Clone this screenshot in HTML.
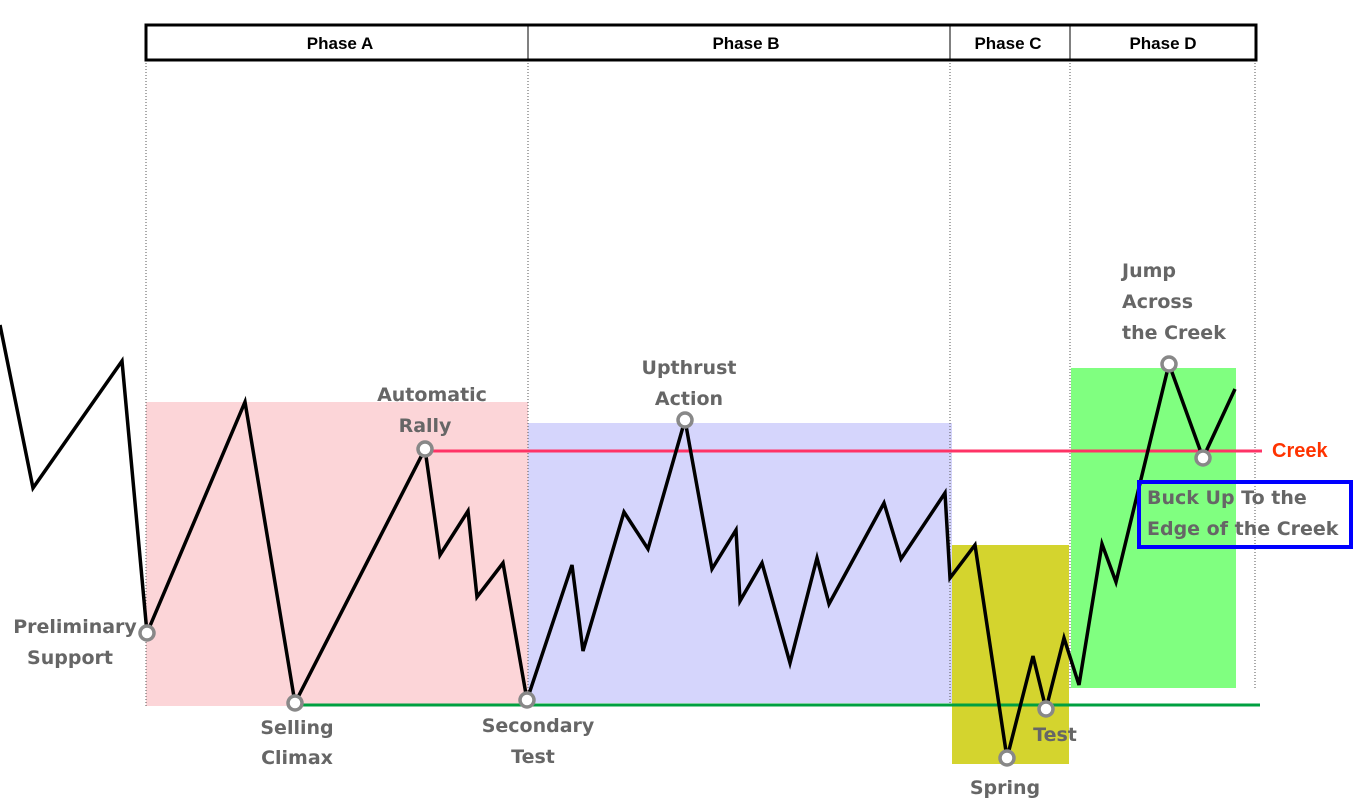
<!DOCTYPE html>
<html><head><meta charset="utf-8"><style>
html,body{margin:0;padding:0;background:#fff;}
svg{display:block;}
text{font-family:"Liberation Sans",sans-serif;font-weight:bold;}
.l text{fill:#666;font-size:19px;font-family:"DejaVu Sans",sans-serif;}
.h{fill:#000;font-size:17px;}
</style></head><body>
<svg width="1363" height="809" viewBox="0 0 1363 809" xmlns="http://www.w3.org/2000/svg">
<rect x="146" y="402" width="382" height="304" fill="#fcd5d8"/>
<rect x="528" y="423" width="424" height="280" fill="#d5d5fc"/>
<rect x="952" y="545" width="117" height="219" fill="#d4d42e"/>
<rect x="1071" y="368" width="165" height="320" fill="#80ff80"/>
<g stroke="#555" stroke-width="1" stroke-dasharray="1,2">
<line x1="146" y1="60" x2="146" y2="706"/>
<line x1="528" y1="60" x2="528" y2="706"/>
<line x1="950" y1="60" x2="950" y2="706"/>
<line x1="1070" y1="60" x2="1070" y2="690"/>
<line x1="1255" y1="60" x2="1255" y2="690"/>
</g>
<rect x="146" y="25" width="1110" height="35" fill="#fff" stroke="#000" stroke-width="3"/>
<g stroke="#000" stroke-width="1"><line x1="528" y1="25" x2="528" y2="60"/><line x1="950" y1="25" x2="950" y2="60"/><line x1="1070" y1="25" x2="1070" y2="60"/></g>
<text class="h" x="340" y="49" text-anchor="middle">Phase A</text>
<text class="h" x="746" y="49" text-anchor="middle">Phase B</text>
<text class="h" x="1008" y="49" text-anchor="middle">Phase C</text>
<text class="h" x="1163" y="49" text-anchor="middle">Phase D</text>
<line x1="425" y1="451" x2="1262" y2="451" stroke="#ff3366" stroke-width="3"/>
<line x1="295" y1="705" x2="1260" y2="705" stroke="#00a040" stroke-width="3"/>
<text x="1272" y="457" fill="#ff3300" font-size="20">Creek</text>
<polyline fill="none" stroke="#000" stroke-width="3.5" stroke-linejoin="miter" points="0,325 33,488 122,361 147,633 245,402 295,703 425,449 440,555 468,511 477,597 503,563 527,700 572,565 583,651 624,512 648,549 685,420 712,569 736,530 740,601 762,563 790,663 817,558 829,604 884,503 901,559 945,493 950,578 975,545 1007,758 1033,656 1046,709 1064,638 1079,685 1102,544 1116,582 1169,364 1203,458 1235,389"/>
<g fill="#fff" stroke="#888" stroke-width="3.5">
<circle cx="147" cy="633" r="7"/><circle cx="295" cy="703" r="7"/><circle cx="425" cy="449" r="7"/>
<circle cx="527" cy="700" r="7"/><circle cx="685" cy="420" r="7"/><circle cx="1007" cy="758" r="7"/>
<circle cx="1046" cy="709" r="7"/><circle cx="1169" cy="364" r="7"/><circle cx="1203" cy="458" r="7"/>
</g>
<g class="l" text-anchor="middle">
<text x="75" y="633">Preliminary</text><text x="70" y="664">Support</text>
<text x="297" y="734">Selling</text><text x="297" y="764">Climax</text>
<text x="432" y="401">Automatic</text><text x="425" y="432">Rally</text>
<text x="538" y="732">Secondary</text><text x="533" y="763">Test</text>
<text x="689" y="374">Upthrust</text><text x="689" y="405">Action</text>
<text x="1005" y="794">Spring</text>
<text x="1055" y="741">Test</text>
</g>
<g class="l">
<text x="1122" y="277">Jump</text><text x="1122" y="308">Across</text><text x="1122" y="339">the Creek</text>
</g>
<rect x="1139" y="482" width="212" height="65" fill="none" stroke="#0000ff" stroke-width="4"/>
<g class="l"><text x="1147" y="504">Buck Up To the</text><text x="1147" y="535">Edge of the Creek</text></g>
</svg>
</body></html>
